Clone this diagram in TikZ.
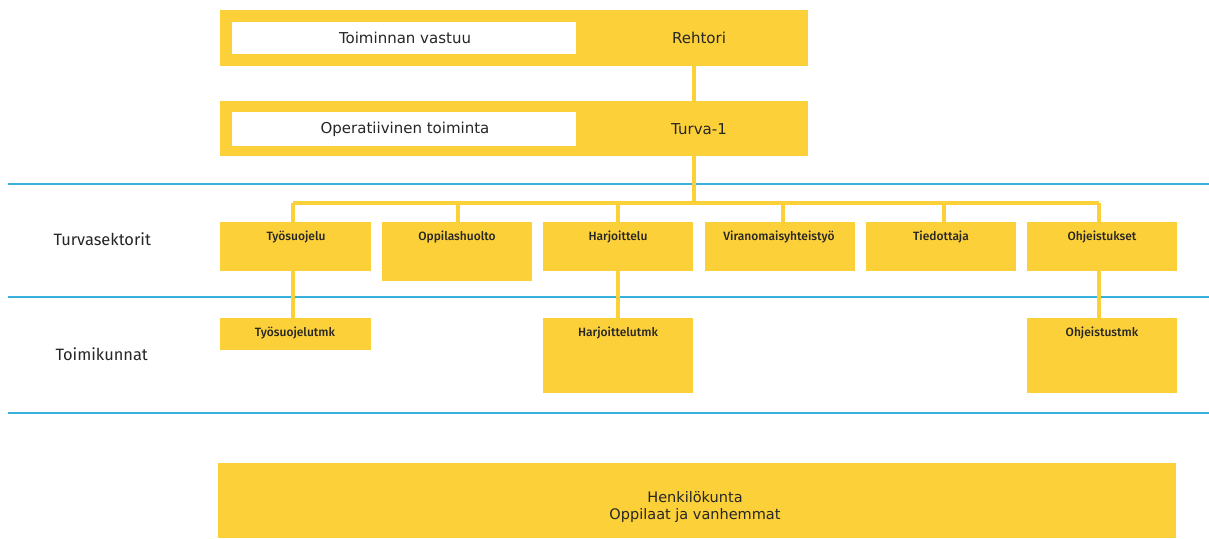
\documentclass[tikz,border=0pt]{standalone}
\usepackage{fontspec}
\setmainfont{DejaVu Sans}
\newfontfamily\secfont{Fira Sans}[UprightFont={* Medium}]
\newfontfamily\lblfont{Fira Sans}
\definecolor{yel}{HTML}{FCD038}
\definecolor{blu}{HTML}{38B0DC}
\definecolor{ink}{HTML}{262626}
\tikzset{
  band/.style={fill=yel, draw=none, inner sep=0pt},
  inbox/.style={fill=white, draw=none, inner sep=0pt},
  sector/.style={fill=yel, draw=none, inner sep=0pt},
  sectxt/.style={font=\secfont\fontsize{12}{14}\selectfont, text=ink},
  toptxt/.style={font=\fontsize{15}{17}\selectfont, text=ink},
  lbl/.style={font=\lblfont\fontsize{16.4}{19}\selectfont, text=ink, anchor=west},
  conn/.style={draw=yel, line width=4pt},
  sep/.style={draw=blu, line width=2.5pt},
}
\begin{document}
\begin{tikzpicture}[x=1pt,y=-1pt]
\useasboundingbox (0,0) rectangle (1209,538);
% separators
\draw[sep] (8,184) -- (1209,184);
\draw[sep] (8,297) -- (1209,297);
\draw[sep] (8,413) -- (1209,413);
% top bands
\path[band] (220,10) rectangle (808,66);
\path[inbox] (232,22) rectangle (576,54);
\node[toptxt] (resp) at (405,38) {Toiminnan vastuu};
\node[toptxt] (rehtori) at (699,38) {Rehtori};
\path[band] (220,101) rectangle (808,156);
\path[inbox] (232,112) rectangle (576,146);
\node[toptxt] (oper) at (405,129) {Operatiivinen toiminta};
\node[toptxt] (turva) at (699,129) {Turva-1};
\coordinate (topb) at (694,66);
\coordinate (t2top) at (694,101);
\coordinate (t2bot) at (694,156);
\coordinate (busc) at (694,203);
\coordinate (busl) at (293,203);
\coordinate (busr) at (1099,203);
\draw[conn] (topb) -- (t2top);
\draw[conn] (t2bot) -- (busc);
\draw[conn] (busl) -- (busr);
% sector boxes
\path[sector] (220,222) rectangle (371,271);
\path[sector] (382,222) rectangle (532,281);
\path[sector] (543,222) rectangle (693,271);
\path[sector] (705,222) rectangle (855,271);
\path[sector] (866,222) rectangle (1016,271);
\path[sector] (1027,222) rectangle (1177,271);
\coordinate (s1) at (293,222);
\coordinate (s2) at (458,222);
\coordinate (s3) at (618,222);
\coordinate (s4) at (783,222);
\coordinate (s5) at (944,222);
\coordinate (s6) at (1099,222);
\foreach \s in {s1,s2,s3,s4,s5,s6} \draw[conn] (\s |- busl) -- (\s);
\node[sectxt] (tyo) at (296,237) {Työsuojelu};
\node[sectxt] (opp) at (457,237) {Oppilashuolto};
\node[sectxt] (har) at (618,237) {Harjoittelu};
\node[sectxt] (vir) at (779,237) {Viranomaisyhteistyö};
\node[sectxt] (tie) at (941,237) {Tiedottaja};
\node[sectxt] (ohj) at (1102,237) {Ohjeistukset};
% committees
\path[sector] (220,318) rectangle (371,350);
\path[sector] (543,318) rectangle (693,393);
\path[sector] (1027,318) rectangle (1177,393);
\node[sectxt] (tyotmk) at (295,333) {Työsuojelutmk};
\node[sectxt] (hartmk) at (618,333) {Harjoittelutmk};
\node[sectxt] (ohjtmk) at (1102,333) {Ohjeistustmk};
\coordinate (c1t) at (293,271);
\coordinate (c1b) at (293,318);
\coordinate (c3t) at (618,271);
\coordinate (c3b) at (618,318);
\coordinate (c6t) at (1099,271);
\coordinate (c6b) at (1099,318);
\draw[conn] (c1t) -- (c1b);
\draw[conn] (c3t) -- (c3b);
\draw[conn] (c6t) -- (c6b);
% left labels
\node[lbl] (turvasek) at (50,239) {Turvasektorit};
\node[lbl] (toimik) at (52,354) {Toimikunnat};
% bottom
\path[band] (218,463) rectangle (1176,538);
\node[font=\fontsize{14.5}{17.5}\selectfont, text=ink, align=center] (hen) at (695,507) {Henkilökunta\\Oppilaat ja vanhemmat};
\end{tikzpicture}
\end{document}
